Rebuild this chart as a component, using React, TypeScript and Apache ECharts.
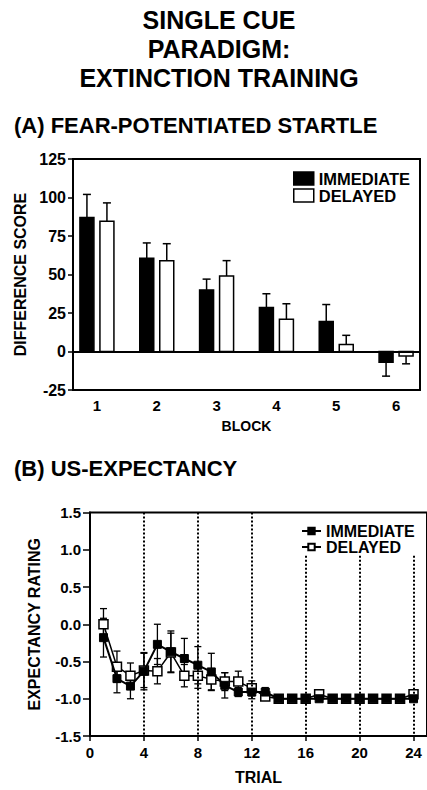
import React, { useEffect, useRef } from 'react';
import * as echarts from 'echarts';

const FONT = '"Liberation Sans", Arial, Helvetica, sans-serif';

// (A) Fear-potentiated startle
const blocks = [1, 2, 3, 4, 5, 6];
const fpsImmediate = [87, 60.5, 40, 28.5, 19.5, -7];
const fpsImmediateErr = [15, 10, 7, 9, 11, 9];
const fpsDelayed = [84.5, 59, 49, 21, 4.5, -3];
const fpsDelayedErr = [12, 11, 10, 10, 6, 5];

// (B) US-expectancy
const trials = [1, 2, 3, 4, 5, 6, 7, 8, 9, 10, 11, 12, 13, 14, 15, 16, 17, 18, 19, 20, 21, 22, 23, 24];
const expImmediate = [-0.18, -0.73, -0.83, -0.63, -0.27, -0.37, -0.46, -0.55, -0.64, -0.82, -0.91, -0.91, -0.91, -1, -1, -1, -1, -1, -1, -1, -1, -1, -1, -1];
const expImmediateErr = [0.26, 0.19, 0.17, 0.25, 0.27, 0.28, 0.27, 0.25, 0.25, 0.17, 0.06, 0.09, 0.06, 0, 0, 0, 0, 0, 0, 0, 0, 0, 0, 0];
const expDelayed = [0.0, -0.57, -0.69, -0.62, -0.63, -0.38, -0.69, -0.69, -0.74, -0.77, -0.77, -0.86, -0.97, -1, -1, -1, -0.94, -1, -1, -1, -1, -1, -1, -0.94];
const expDelayedErr = [0.21, 0.21, 0.17, 0.23, 0.17, 0.26, 0.15, 0.17, 0.14, 0.12, 0.14, 0.1, 0.04, 0, 0, 0, 0, 0, 0, 0, 0, 0, 0, 0];
const trialBlockEnds = [4, 8, 12, 16, 20, 24];

const labelStyle = { fontFamily: FONT, fontWeight: 'bold' as const, color: '#000' };

function barSeries(name: string, vals: number[], errs: number[], offset: number, fill: string) {
  return {
    type: 'custom',
    name,
    data: blocks.map((b, i) => [b, vals[i], errs[i]]),
    encode: { x: 0, y: 1 },
    itemStyle: { color: fill, borderColor: '#000', borderWidth: 1.5 },
    renderItem: (params: any, api: any) => {
      const x = api.value(0);
      const v = api.value(1);
      const e = api.value(2);
      const base = api.coord([x, 0]);
      const top = api.coord([x, v]);
      const sign = v >= 0 ? 1 : -1;
      const errEnd = api.coord([x, v + sign * e]);
      const cx = base[0] + offset;
      const w = 14;
      return {
        type: 'group',
        children: [
          { type: 'line', shape: { x1: cx, y1: top[1], x2: cx, y2: errEnd[1] }, style: { stroke: '#000', lineWidth: 1.5 } },
          { type: 'line', shape: { x1: cx - 4, y1: errEnd[1], x2: cx + 4, y2: errEnd[1] }, style: { stroke: '#000', lineWidth: 1.5 } },
          {
            type: 'rect',
            shape: { x: cx - w / 2, y: Math.min(base[1], top[1]), width: w, height: Math.abs(top[1] - base[1]) },
            style: { fill, stroke: '#000', lineWidth: 1.5 },
          },
        ],
      };
    },
  };
}

function errSeries(name: string, means: number[], errs: number[], z: number, extra: any = {}) {
  return {
    type: 'custom',
    name,
    z,
    data: trials.map((t, i) => [t, means[i], errs[i]]),
    encode: { x: 0, y: 1 },
    renderItem: (params: any, api: any) => {
      const x = api.value(0);
      const m = api.value(1);
      const e = api.value(2);
      if (!e) return { type: 'group', children: [] };
      const hi = api.coord([x, m + e]);
      const lo = api.coord([x, m - e]);
      const cx = hi[0];
      const st = { stroke: '#000', lineWidth: 1.3 };
      return {
        type: 'group',
        children: [
          { type: 'line', shape: { x1: cx, y1: hi[1], x2: cx, y2: lo[1] }, style: st },
          { type: 'line', shape: { x1: cx - 3.5, y1: hi[1], x2: cx + 3.5, y2: hi[1] }, style: st },
          { type: 'line', shape: { x1: cx - 3.5, y1: lo[1], x2: cx + 3.5, y2: lo[1] }, style: st },
        ],
      };
    },
    ...extra,
  };
}

export default function App() {
  const refA = useRef<HTMLDivElement>(null);
  const refB = useRef<HTMLDivElement>(null);

  useEffect(() => {
    const chartA = echarts.init(refA.current!, null, { renderer: 'svg' });
    const chartB = echarts.init(refB.current!, null, { renderer: 'svg' });

    chartA.setOption({
      animation: false,
      backgroundColor: '#fff',
      title: [
        {
          text: 'SINGLE CUE\nPARADIGM:\nEXTINCTION TRAINING',
          left: 219,
          top: 5,
          textAlign: 'center',
          padding: 0,
          textStyle: { ...labelStyle, fontSize: 25, lineHeight: 29 },
        },
        {
          text: '(A) FEAR-POTENTIATED STARTLE',
          left: 14,
          top: 113,
          padding: 0,
          textStyle: { ...labelStyle, fontSize: 22, lineHeight: 24 },
        },
      ],
      legend: {
        orient: 'vertical',
        left: 293,
        top: 170,
        padding: 0,
        itemGap: 0,
        itemWidth: 20,
        itemHeight: 13,
        icon: 'rect',
        textStyle: { ...labelStyle, fontSize: 16.5, lineHeight: 15 },
        data: [
          { name: 'IMMEDIATE', itemStyle: { color: '#000', borderColor: '#000', borderWidth: 1.5 } },
          { name: 'DELAYED', itemStyle: { color: '#fff', borderColor: '#000', borderWidth: 1.5 } },
        ],
      },
      grid: {
        left: 73,
        top: 159,
        width: 347,
        height: 231,
        show: true,
        borderColor: '#000',
        borderWidth: 2,
        backgroundColor: 'transparent',
      },
      xAxis: {
        type: 'value',
        min: 0.6,
        max: 6.4,
        splitNumber: 5,
        name: 'BLOCK',
        nameLocation: 'middle',
        nameGap: 29,
        nameTextStyle: { ...labelStyle, fontSize: 14 },
        axisLine: { onZero: false, lineStyle: { color: '#000', width: 2 } },
        axisTick: { show: false },
        splitLine: { show: false },
        axisLabel: {
          ...labelStyle,
          fontSize: 15,
          margin: 8,
          showMinLabel: false,
          showMaxLabel: false,
          formatter: (v: number) => (blocks.includes(v) ? String(v) : ''),
        },
      },
      yAxis: {
        type: 'value',
        min: -25,
        max: 125,
        interval: 25,
        name: 'DIFFERENCE SCORE',
        nameLocation: 'middle',
        nameRotate: 90,
        nameGap: 40,
        nameTextStyle: { ...labelStyle, fontSize: 16 },
        axisLine: { show: true, lineStyle: { color: '#000', width: 2 } },
        axisTick: { show: true, length: 5, lineStyle: { color: '#000', width: 1.5 } },
        splitLine: { show: false },
        axisLabel: { ...labelStyle, fontSize: 16, margin: 7 },
      },
      series: [
        {
          ...barSeries('IMMEDIATE', fpsImmediate, fpsImmediateErr, -10, '#000'),
          markLine: {
            silent: true,
            symbol: ['none', 'none'],
            label: { show: false },
            lineStyle: { color: '#000', type: 'solid', width: 2 },
            data: [{ yAxis: 0 }],
          },
        },
        barSeries('DELAYED', fpsDelayed, fpsDelayedErr, 10, '#fff'),
      ],
    });

    chartB.setOption({
      animation: false,
      backgroundColor: '#fff',
      title: {
        text: '(B) US-EXPECTANCY',
        left: 14,
        top: 16,
        padding: 0,
        textStyle: { ...labelStyle, fontSize: 22, lineHeight: 24 },
      },
      legend: {
        orient: 'vertical',
        left: 301,
        top: 83,
        padding: 0,
        itemGap: 0,
        itemWidth: 19,
        itemHeight: 8,
        textStyle: { ...labelStyle, fontSize: 16, lineHeight: 15 },
        data: ['IMMEDIATE', 'DELAYED'],
      },
      grid: {
        left: 90,
        top: 72.5,
        width: 338,
        height: 224,
        show: true,
        borderColor: '#000',
        borderWidth: 2,
        backgroundColor: 'transparent',
      },
      xAxis: {
        type: 'value',
        min: 0,
        max: 25,
        interval: 4,
        name: 'TRIAL',
        nameLocation: 'middle',
        nameGap: 33,
        nameTextStyle: { ...labelStyle, fontSize: 16 },
        axisLine: { onZero: false, lineStyle: { color: '#000', width: 2 } },
        axisTick: { show: true, length: 5, lineStyle: { color: '#000', width: 1.5 } },
        splitLine: { show: false },
        axisLabel: { ...labelStyle, fontSize: 15, margin: 9, showMaxLabel: false },
      },
      yAxis: {
        type: 'value',
        min: -1.5,
        max: 1.5,
        interval: 0.5,
        name: 'EXPECTANCY RATING',
        nameLocation: 'middle',
        nameRotate: 90,
        nameGap: 48,
        nameTextStyle: { ...labelStyle, fontSize: 16 },
        axisLine: { show: true, onZero: false, lineStyle: { color: '#000', width: 2 } },
        axisTick: { show: true, length: 7, lineStyle: { color: '#000', width: 1.5 } },
        splitLine: { show: false },
        axisLabel: { ...labelStyle, fontSize: 15, margin: 9, formatter: (v: number) => v.toFixed(1) },
      },
      series: [
        errSeries('errD', expDelayed, expDelayedErr, 1, {
          markLine: {
            silent: true,
            symbol: ['none', 'none'],
            label: { show: false },
            lineStyle: { color: '#000', type: [2, 2], width: 2 },
            data: trialBlockEnds.map((t) => [
              { coord: [t, t <= 12 ? 1.5 : 0.92] },
              { coord: [t, -1.5] },
            ]),
          },
        }),
        errSeries('errI', expImmediate, expImmediateErr, 1),
        {
          type: 'line',
          name: 'DELAYED',
          z: 3,
          data: trials.map((t, i) => [t, expDelayed[i]]),
          symbol: 'rect',
          symbolSize: 9,
          lineStyle: { color: '#000', width: 1.5 },
          itemStyle: { color: '#fff', borderColor: '#000', borderWidth: 1.5 },
        },
        {
          type: 'line',
          name: 'IMMEDIATE',
          z: 4,
          data: trials.map((t, i) => [t, expImmediate[i]]),
          symbol: 'rect',
          symbolSize: 8,
          lineStyle: { color: '#000', width: 2 },
          itemStyle: { color: '#000', borderColor: '#000', borderWidth: 1 },
        },
      ],
    });

    return () => {
      chartA.dispose();
      chartB.dispose();
    };
  }, []);

  return (
    <div style={{ position: 'fixed', left: 0, top: 0, width: 427, height: 790, background: '#fff' }}>
      <div ref={refA} style={{ position: 'absolute', left: 0, top: 0, width: 427, height: 440 }} />
      <div ref={refB} style={{ position: 'absolute', left: 0, top: 440, width: 427, height: 350 }} />
    </div>
  );
}
